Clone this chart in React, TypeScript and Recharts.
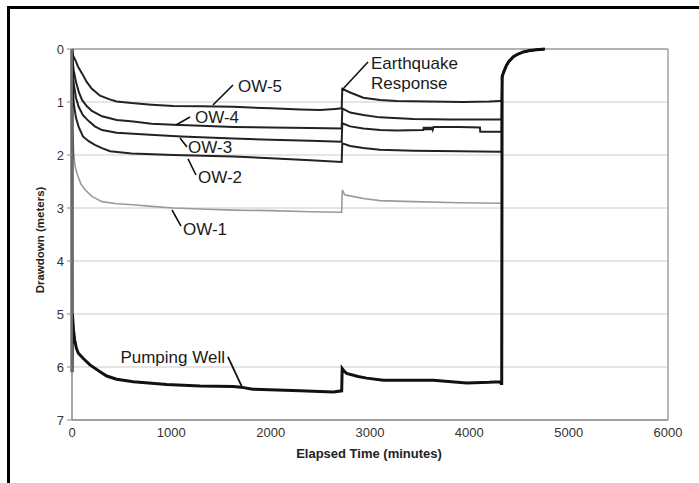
import React from 'react';
import { LineChart, Line, XAxis, YAxis, CartesianGrid, ReferenceLine, ReferenceDot } from 'recharts';

type P = [number, number];

const X_TICKS = [0, 1000, 2000, 3000, 4000, 5000, 6000];
const Y_TICKS = [0, 1, 2, 3, 4, 5, 6, 7];

const OW5: P[] = [[0,0],[10,0.12],[34,0.21],[60,0.33],[101,0.46],[148,0.62],[200,0.75],[282,0.88],[380,0.95],[450,0.99],[600,1.02],[800,1.05],[1020,1.075],[1300,1.08],[1625,1.09],[2000,1.12],[2300,1.14],[2497,1.15],[2650,1.13],[2715,1.12],[2721,0.75],[2800,0.82],[2933,0.92],[3100,0.96],[3269,0.98],[3600,0.99],[3939,1.0],[4200,0.99],[4309,0.98],[4326,0.98]];
const OW4: P[] = [[0,0],[8,0.25],[17,0.4],[40,0.62],[70,0.82],[101,0.96],[150,1.08],[200,1.17],[302,1.27],[450,1.34],[617,1.37],[800,1.41],[1020,1.43],[1300,1.45],[1625,1.47],[2000,1.48],[2400,1.49],[2715,1.5],[2721,1.12],[2800,1.2],[2933,1.245],[3100,1.29],[3436,1.32],[3800,1.33],[4309,1.33],[4326,1.33]];
const OW3: P[] = [[0,0],[8,0.4],[17,0.65],[40,0.92],[67,1.09],[110,1.25],[168,1.36],[230,1.46],[302,1.53],[450,1.58],[785,1.62],[1100,1.65],[1625,1.69],[2000,1.71],[2400,1.73],[2715,1.75],[2721,1.4],[2800,1.46],[2933,1.5],[3100,1.53],[3269,1.54],[3537,1.53],[3541,1.47],[3548,1.53],[3555,1.47],[3562,1.53],[3569,1.47],[3576,1.53],[3583,1.47],[3590,1.53],[3597,1.47],[3604,1.53],[3611,1.47],[3618,1.53],[3625,1.47],[3632,1.52],[3640,1.47],[3900,1.47],[4107,1.48],[4110,1.56],[4309,1.56],[4326,1.56]];
const OW2: P[] = [[0,0],[8,0.7],[17,1.02],[40,1.3],[67,1.47],[110,1.65],[168,1.74],[230,1.81],[302,1.87],[383,1.93],[600,1.97],[1020,2.0],[1625,2.03],[2000,2.06],[2400,2.1],[2715,2.13],[2721,1.78],[2800,1.83],[2933,1.87],[3100,1.9],[3436,1.92],[3900,1.93],[4309,1.94],[4326,1.94]];
const OW1: P[] = [[0,0],[5,1.5],[17,1.97],[30,2.2],[50,2.35],[90,2.55],[134,2.66],[200,2.78],[302,2.88],[450,2.92],[617,2.94],[800,2.97],[1020,3.0],[1300,3.02],[1625,3.04],[2000,3.05],[2400,3.07],[2715,3.08],[2721,2.66],[2745,2.75],[2850,2.79],[2933,2.82],[3100,2.86],[3436,2.88],[3900,2.9],[4309,2.91],[4326,2.91]];
const PUMPING: P[] = [[0,0],[1,6.1],[4,5.0],[15,5.3],[27,5.49],[45,5.65],[64,5.74],[114,5.84],[181,5.96],[282,6.09],[350,6.17],[450,6.23],[617,6.28],[953,6.33],[1289,6.36],[1625,6.37],[1700,6.38],[1820,6.42],[2296,6.45],[2631,6.47],[2715,6.45],[2720,6.03],[2740,6.08],[2765,6.12],[2880,6.18],[2967,6.21],[3134,6.25],[3637,6.25],[3973,6.3],[4200,6.29],[4309,6.28],[4319,6.31],[4326,6.31]];
const RECOVERY: P[] = [[4330,0.52],[4345,0.44],[4360,0.37],[4376,0.3],[4400,0.23],[4443,0.145],[4490,0.095],[4544,0.055],[4610,0.03],[4678,0.015],[4760,0.0]];

// annotations: [label, textX, textY, leaderFromX, leaderFromY, leaderToX, leaderToY]
const NOTES: [string, number, number, number, number, number, number][] = [
  ['OW-5', 1671, 0.698, 1419, 1.057, 1621, 0.679],
  ['OW-4', 1238, 1.283, 1047, 1.434, 1188, 1.283],
  ['OW-3', 1168, 1.849, 1087, 1.679, 1158, 1.849],
  ['OW-2', 1268, 2.415, 1168, 2.075, 1248, 2.377],
  ['OW-1', 1117, 3.396, 1007, 3.038, 1097, 3.34],
];
const QUAKE_LINES: [string, number, number][] = [['Earthquake', 3010, 0.264], ['Response', 3010, 0.642]];
const QUAKE_LEADER: [number, number, number, number] = [2718, 0.774, 2980, 0.245];
const PUMP_NOTE: [string, number, number, number, number, number, number] = ['Pumping Well', 1540, 5.811, 1570, 5.811, 1711, 6.377];

const toRows = (pts: P[]) => pts.concat(RECOVERY).map(([t, d]) => ({ t, d }));

const FONT = '"Liberation Sans", Arial, Helvetica, sans-serif';
const noteLabel = (value: string, position: 'right' | 'left') => ({
  value, position, offset: 0, fill: '#1a1a1a', fontSize: 17, fontFamily: FONT,
});

const SERIES: { name: string; pts: P[]; color: string; width: number }[] = [
  { name: 'OW-1', pts: OW1, color: '#9a9a9a', width: 1.6 },
  { name: 'OW-2', pts: OW2, color: '#222', width: 2 },
  { name: 'OW-3', pts: OW3, color: '#222', width: 2 },
  { name: 'OW-4', pts: OW4, color: '#222', width: 2 },
  { name: 'OW-5', pts: OW5, color: '#222', width: 2 },
  { name: 'Pumping Well', pts: PUMPING, color: '#111', width: 3 },
];

export default function App() {
  return (
    <div style={{ position: 'absolute', left: 0, top: 0, width: 699, height: 483, overflow: 'hidden', background: '#fff', fontFamily: FONT }}>
      <div style={{ position: 'absolute', left: 7, top: 6, width: 1000, height: 1000, borderTop: '3px solid #000', borderLeft: '3px solid #000' }} />
      <div style={{ position: 'absolute', left: 0, top: 0 }}>
        <LineChart width={699} height={483} margin={{ top: 49, right: 31, bottom: 33, left: 0 }}>
          <CartesianGrid horizontal vertical={false} stroke="#dcdcdc" strokeWidth={1.5} />
          <XAxis
            type="number"
            dataKey="t"
            domain={[0, 6000]}
            ticks={X_TICKS}
            allowDuplicatedCategory={false}
            height={30}
            tickLine={false}
            tickSize={6}
            tickMargin={2}
            axisLine={{ stroke: '#8a8a8a', strokeWidth: 1.5 }}
            tick={{ fill: '#333', fontSize: 13, fontFamily: FONT }}
          />
          <YAxis
            type="number"
            dataKey="d"
            reversed
            domain={[0, 7]}
            ticks={Y_TICKS}
            width={72}
            tickSize={5}
            tickMargin={3}
            tickLine={{ stroke: '#8a8a8a' }}
            axisLine={{ stroke: '#8a8a8a', strokeWidth: 1.5 }}
            tick={{ fill: '#333', fontSize: 13, fontFamily: FONT }}
          />
          <ReferenceLine y={0} stroke="#a0a0a0" strokeWidth={1.5} />
          <ReferenceLine x={6000} stroke="#a0a0a0" strokeWidth={1.5} />
          {SERIES.map((s) => (
            <Line
              key={s.name}
              data={toRows(s.pts)}
              dataKey="d"
              type="linear"
              stroke={s.color}
              strokeWidth={s.width}
              dot={false}
              activeDot={false}
              isAnimationActive={false}
            />
          ))}
          {NOTES.map(([name, tx, ty, x1, y1, x2, y2]) => (
            <ReferenceLine key={'l' + name} segment={[{ x: x1, y: y1 }, { x: x2, y: y2 }]} stroke="#111" strokeWidth={1.6} />
          ))}
          {NOTES.map(([name, tx, ty]) => (
            <ReferenceDot key={'d' + name} x={tx} y={ty} r={0} stroke="none" fill="none" label={noteLabel(name, 'right')} />
          ))}
          <ReferenceLine segment={[{ x: QUAKE_LEADER[0], y: QUAKE_LEADER[1] }, { x: QUAKE_LEADER[2], y: QUAKE_LEADER[3] }]} stroke="#111" strokeWidth={1.6} />
          {QUAKE_LINES.map(([txt, tx, ty]) => (
            <ReferenceDot key={txt} x={tx} y={ty} r={0} stroke="none" fill="none" label={noteLabel(txt, 'right')} />
          ))}
          <ReferenceLine segment={[{ x: PUMP_NOTE[3], y: PUMP_NOTE[4] }, { x: PUMP_NOTE[5], y: PUMP_NOTE[6] }]} stroke="#111" strokeWidth={1.8} />
          <ReferenceDot x={PUMP_NOTE[1]} y={PUMP_NOTE[2]} r={0} stroke="none" fill="none" label={noteLabel(PUMP_NOTE[0], 'left')} />
        </LineChart>
      </div>
      <svg width={699} height={483} style={{ position: 'absolute', left: 0, top: 0, pointerEvents: 'none' }}>
        <text x={369} y={458} textAnchor="middle" fontSize={13} fontWeight="bold" fill="#222" fontFamily={FONT}>
          Elapsed Time (minutes)
        </text>
        <text transform="translate(44,240) rotate(-90)" textAnchor="middle" fontSize={11.5} fontWeight="bold" fill="#222" fontFamily={FONT}>
          Drawdown (meters)
        </text>
      </svg>
    </div>
  );
}
